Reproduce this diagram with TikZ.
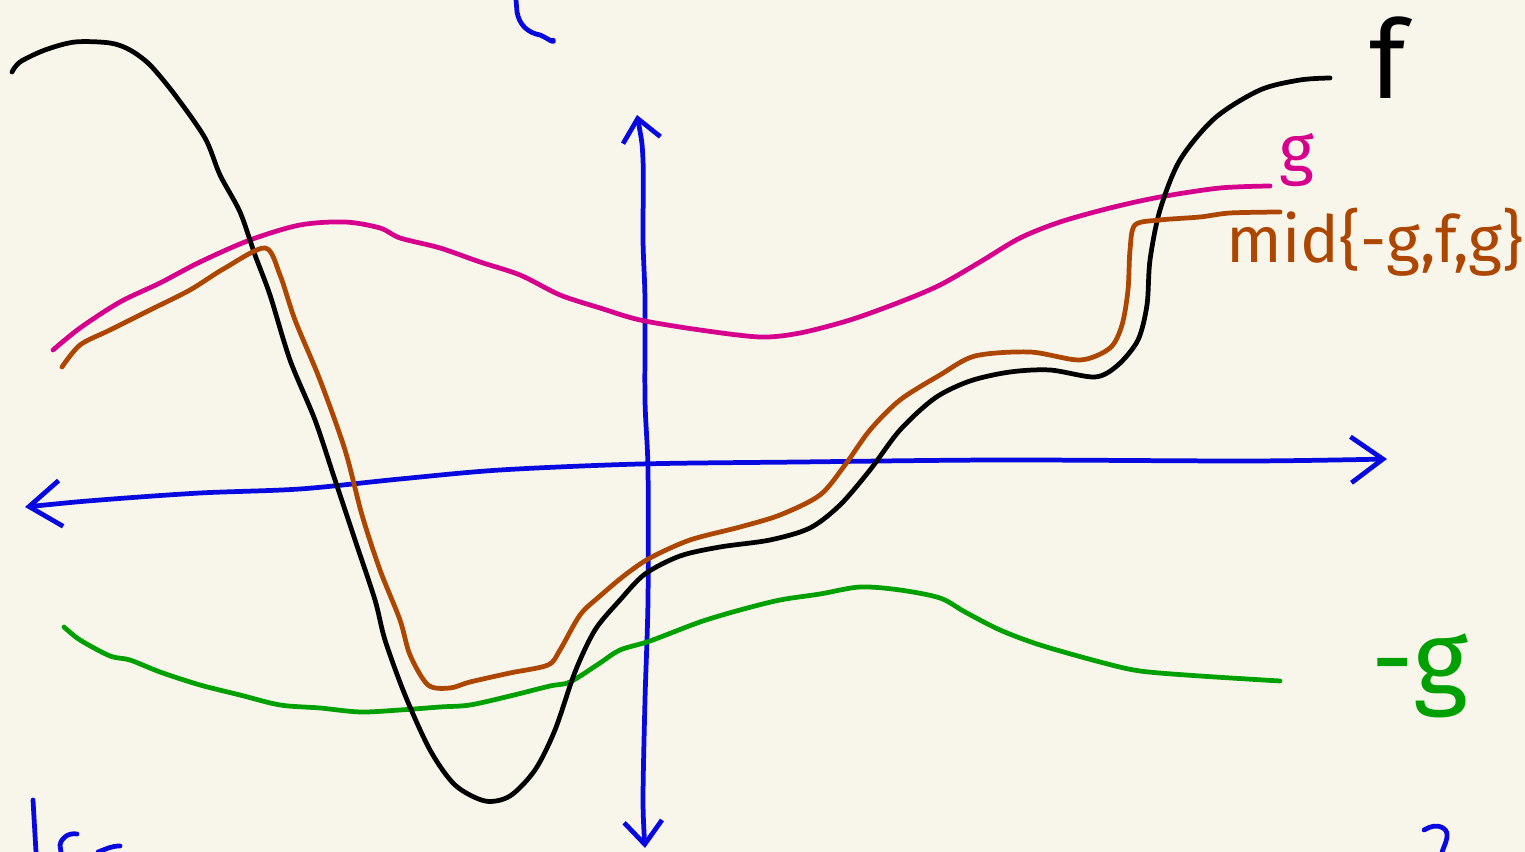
\documentclass[tikz,border=0pt]{standalone}
\usepackage{fontspec}
\setmainfont{Fira Sans}
\usetikzlibrary{arrows.meta}
\definecolor{paper}{RGB}{248, 246, 234}
\definecolor{axisblue}{RGB}{8, 8, 225}
\definecolor{gmagenta}{RGB}{214, 0, 140}
\definecolor{midbrown}{RGB}{172, 70, 0}
\definecolor{neggreen}{RGB}{0, 160, 0}

\begin{document}
\begin{tikzpicture}[
    x=0.1mm, y=-0.1mm,
    pen/.style={line width=1.35pt, line cap=round, line join=round},
    axis/.style={pen, draw=axisblue, {Straight Barb[length=3.2mm, width=4.6mm]}-{Straight Barb[length=3.2mm, width=4.6mm]}},
    vaxis/.style={pen, draw=axisblue, {Straight Barb[length=2.2mm, width=3.8mm]}-{Straight Barb[length=2.3mm, width=3.8mm]}},
    label/.style={inner sep=0pt}
]
    % paper
    \fill[paper] (0,0) rectangle (1525,852);
    \useasboundingbox (0,0) rectangle (1525,852);

    % axes
    \draw[axis] plot[smooth, tension=0.5] coordinates {
        (25,507) (100,500) (200,493) (300,489) (400,479) (500,470) (640,464)
        (800,462) (1000,460) (1250,461) (1387,459)};
    \draw[vaxis] plot[smooth, tension=0.5] coordinates {
        (637,115) (643,160) (643,240) (645,300) (645,400) (648,470) (648,600)
        (645,700) (643,800) (645,848)};

    % cut-off strokes at the edges
    \draw[pen, axisblue] (516,0) -- (517,12) to[out=-80, in=170] (540,35) to[out=-20, in=-60] (553,40);
    \draw[pen, axisblue] (33,800) -- (36,852);
    \draw[pen, axisblue] (77,834) to[out=170, in=80] (60,845) -- (61,852);
    \draw[pen, axisblue] (98,852) to[out=20, in=180] (120,846);
    \draw[pen, axisblue] (1424,830) to[out=30, in=150] (1443,828) to[out=-30, in=70] (1442,852);

    % -g
    \draw[pen, neggreen] plot[smooth, tension=0.5] coordinates {
        (64,627) (80,640) (110,656) (130,660) (160,672) (200,685) (240,695) (280,705)
        (320,708) (360,712) (400,710) (440,707) (470,705) (510,696) (550,686) (570,682)
        (600,663) (620,650) (650,641) (700,622) (740,610) (780,600) (820,594) (860,587)
        (900,590) (940,598) (965,612) (1000,630) (1040,645) (1100,662) (1140,671)
        (1200,676) (1280,681)};

    % g
    \draw[pen, gmagenta] plot[smooth, tension=0.5] coordinates {
        (53,350) (80,328) (120,302) (160,283) (200,262) (250,240) (300,225) (345,222)
        (380,228) (400,238) (440,248) (480,262) (520,275) (560,295) (600,308) (640,320)
        (700,330) (760,337) (800,333) (850,320) (900,302) (940,285) (980,262) (1020,238)
        (1060,222) (1110,208) (1160,197) (1220,188) (1270,186)};

    % f
    \draw[pen, black] plot[smooth, tension=0.5] coordinates {
        (12,72) (20,62) (45,50) (75,42) (110,43) (130,50) (150,65) (175,95) (205,138)
        (220,175) (240,212) (255,255) (270,295) (290,360) (315,420) (335,480) (355,540)
        (375,600) (385,640) (405,695) (430,750) (455,785) (485,801) (510,796) (535,770)
        (555,730) (575,672) (595,630) (620,600) (645,574) (680,556) (720,547) (770,540)
        (810,528) (840,505) (870,470) (900,430) (935,398) (970,381) (1010,372) (1050,370)
        (1095,377) (1118,365) (1138,340) (1147,305) (1150,260) (1160,210) (1180,160)
        (1215,118) (1260,90) (1300,80) (1330,78)};

    % mid{-g,f,g}
    \draw[pen, midbrown] plot[smooth, tension=0.5] coordinates {
        (62,367) (80,345) (110,330) (150,310) (190,290) (225,268) (265,248) (280,275)
        (295,320) (320,380) (345,450) (362,515) (380,570) (400,620) (410,655) (428,685)
        (450,688) (470,682) (510,673) (548,665) (560,650) (580,615) (600,596) (625,575)
        (650,558) (690,540) (740,527) (780,515) (820,495) (845,465) (870,430) (900,400)
        (940,375) (975,356) (1030,352) (1080,360) (1110,348) (1122,325) (1128,290)
        (1130,250) (1135,225) (1160,220) (1200,217) (1230,213) (1280,212)};

    % labels
    \node[label, black, font=\fontsize{31}{31}\selectfont] (lblf) at (1388,58) {f};
    \node[label, gmagenta, font=\fontsize{19}{19}\selectfont] (lblg) at (1297,160) {g};
    \node[label, midbrown, font=\fontsize{18.5}{18.5}\selectfont, anchor=base west] (lblmid) at (1226,263) {mid\{-g,f,g\}};
    \node[label, neggreen, font=\fontsize{30}{30}\selectfont] (lblnegg) at (1420,676) {-g};
\end{tikzpicture}
\end{document}
